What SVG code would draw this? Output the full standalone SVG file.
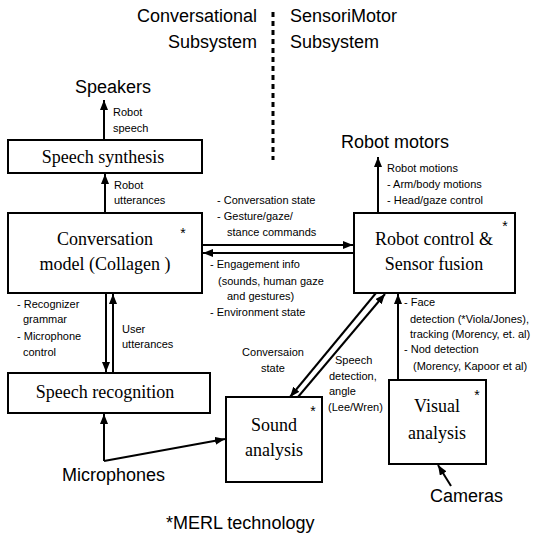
<svg xmlns="http://www.w3.org/2000/svg" width="554" height="539" viewBox="0 0 554 539">
<style>
.bx{fill:#fff;stroke:#000;stroke-width:2}
.big{font-family:"Liberation Sans",Arial,sans-serif;font-size:18px;fill:#000}
.ser{font-family:"Liberation Serif","Times New Roman",serif;font-size:18px;fill:#000;text-anchor:middle}
.sm{font-family:"Liberation Sans",Arial,sans-serif;font-size:11px;fill:#000}
.st{font-family:"Liberation Sans",Arial,sans-serif;font-size:14px;fill:#000;text-anchor:middle}
.ln{stroke:#000;stroke-width:2;fill:none}
.ar{stroke:#000;stroke-width:2;fill:none;marker-end:url(#ah)}
</style>
<defs>
<marker id="ah" viewBox="0 0 10 8" refX="10" refY="4" markerWidth="10" markerHeight="8" markerUnits="userSpaceOnUse" orient="auto">
<path d="M0,0 L10,4 L0,8 z" fill="#000"/>
</marker>
</defs>
<rect width="554" height="539" fill="#fff"/>

<g id="headers">
<text class="big" x="257" y="22" text-anchor="end">Conversational</text>
<text class="big" x="257" y="48" text-anchor="end">Subsystem</text>
<text class="big" x="290" y="22">SensoriMotor</text>
<text class="big" x="290" y="48">Subsystem</text>
<line x1="273" y1="12" x2="273" y2="160" stroke="#000" stroke-width="3" stroke-dasharray="5 4"/>
</g>

<g id="speakers"><text class="big" x="113" y="93" text-anchor="middle">Speakers</text></g>
<g id="robot-motors"><text class="big" x="395" y="148" text-anchor="middle">Robot motors</text></g>
<g id="microphones"><text class="big" x="62" y="481">Microphones</text></g>
<g id="cameras"><text class="big" x="430" y="502">Cameras</text></g>
<g id="merl"><text class="big" x="166" y="529">*MERL technology</text></g>

<g id="speech-synthesis">
<rect class="bx" x="8" y="140" width="194" height="33"/>
<text class="ser" x="103" y="163">Speech synthesis</text>
</g>
<g id="conversation-model">
<rect class="bx" x="8" y="213" width="194" height="80"/>
<text class="ser" x="105" y="245">Conversation</text>
<text class="ser" x="105" y="270">model (Collagen )</text>
<text class="st" x="183" y="238">*</text>
</g>
<g id="speech-recognition">
<rect class="bx" x="8" y="373" width="202" height="40"/>
<text class="ser" x="105" y="398">Speech recognition</text>
</g>
<g id="robot-control">
<rect class="bx" x="354" y="213" width="161" height="80"/>
<text class="ser" x="434" y="245">Robot control &amp;</text>
<text class="ser" x="434" y="270">Sensor fusion</text>
<text class="st" x="505" y="231">*</text>
</g>
<g id="sound-analysis">
<rect class="bx" x="226" y="397" width="96" height="85"/>
<text class="ser" x="274" y="431">Sound</text>
<text class="ser" x="274" y="456">analysis</text>
<text class="st" x="313" y="416">*</text>
</g>
<g id="visual-analysis">
<rect class="bx" x="389" y="380" width="97" height="84"/>
<text class="ser" x="437" y="412">Visual</text>
<text class="ser" x="437" y="439">analysis</text>
<text class="st" x="477" y="400">*</text>
</g>

<g id="connectors">
<line class="ar" x1="104" y1="140" x2="104" y2="100"/>
<line class="ar" x1="105" y1="213" x2="105" y2="174"/>
<line class="ar" x1="378" y1="213" x2="378" y2="157"/>
<line class="ar" x1="202" y1="245" x2="353" y2="245"/>
<line class="ar" x1="354" y1="253" x2="203" y2="253"/>
<line class="ar" x1="106" y1="293" x2="106" y2="372"/>
<line class="ar" x1="113" y1="373" x2="113" y2="294"/>
<line class="ar" x1="376" y1="293" x2="290" y2="397"/>
<line class="ar" x1="298" y1="397" x2="385" y2="294"/>
<line class="ar" x1="398" y1="380" x2="398" y2="294"/>
<line class="ar" x1="104" y1="461" x2="104" y2="414"/>
<line class="ar" x1="104" y1="461" x2="225" y2="439"/>
<line class="ar" x1="451" y1="486" x2="438" y2="465"/>
</g>

<g id="labels">
<text class="sm" x="113" y="116">Robot</text>
<text class="sm" x="113" y="132">speech</text>
<text class="sm" x="114" y="189">Robot</text>
<text class="sm" x="114" y="204">utterances</text>
<text class="sm" x="387" y="172">Robot motions</text>
<text class="sm" x="387" y="188">- Arm/body motions</text>
<text class="sm" x="387" y="204">- Head/gaze control</text>
<text class="sm" x="217" y="204">- Conversation state</text>
<text class="sm" x="217" y="220">- Gesture/gaze/</text>
<text class="sm" x="227" y="236">stance commands</text>
<text class="sm" x="210" y="268">- Engagement info</text>
<text class="sm" x="218" y="285">(sounds, human gaze</text>
<text class="sm" x="227" y="300">and gestures)</text>
<text class="sm" x="210" y="316">- Environment state</text>
<text class="sm" x="17" y="308">- Recognizer</text>
<text class="sm" x="23" y="323">grammar</text>
<text class="sm" x="17" y="340">- Microphone</text>
<text class="sm" x="23" y="356">control</text>
<text class="sm" x="122" y="333">User</text>
<text class="sm" x="122" y="348">utterances</text>
<text class="sm" x="273" y="356" text-anchor="middle">Conversaion</text>
<text class="sm" x="273" y="372" text-anchor="middle">state</text>
<text class="sm" x="335" y="364">Speech</text>
<text class="sm" x="329" y="380">detection,</text>
<text class="sm" x="329" y="395">angle</text>
<text class="sm" x="328" y="411">(Lee/Wren)</text>
<text class="sm" x="404" y="306">- Face</text>
<text class="sm" x="410" y="323">detection (*Viola/Jones),</text>
<text class="sm" x="410" y="338">tracking (Morency, et. al)</text>
<text class="sm" x="404" y="353">- Nod detection</text>
<text class="sm" x="413" y="370">(Morency, Kapoor et al)</text>
</g>
</svg>
